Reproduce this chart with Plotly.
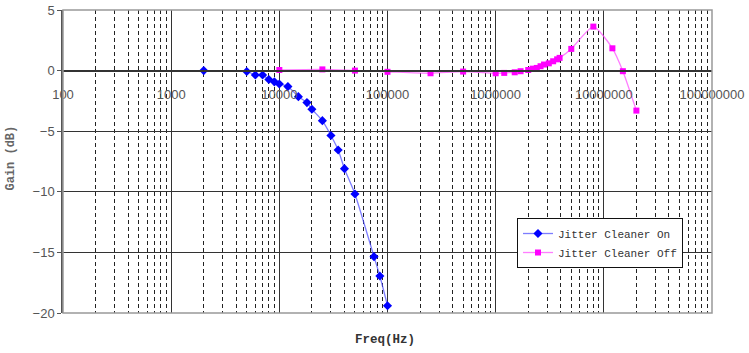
import plotly.graph_objects as go

on_freq = [2000, 5000, 6000, 7000, 8000, 9000, 10000, 12000, 15000, 18000, 20000,
           25000, 30000, 35000, 40000, 50000, 75000, 85000, 100000]
on_gain = [0, -0.08, -0.36, -0.36, -0.74, -0.93, -1.1, -1.32, -2.15, -2.64, -3.19,
           -4.13, -5.36, -6.55, -8.09, -10.18, -15.35, -16.95, -19.4]

off_freq = [10000, 25000, 50000, 100000, 250000, 500000, 1000000, 1200000, 1500000,
            1700000, 2000000, 2200000, 2400000, 2600000, 2800000, 3100000, 3400000,
            3700000, 3900000, 5000000, 8000000, 12000000, 15000000, 20000000]
off_gain = [0.05, 0.1, 0.0, -0.1, -0.22, -0.08, -0.22, -0.19, -0.14, -0.05, 0.05, 0.16,
            0.22, 0.36, 0.5, 0.6, 0.77, 0.93, 1.05, 1.79, 3.63, 1.84, -0.05, -3.3]

x_ticks = [100, 1000, 10000, 100000, 1000000, 10000000, 100000000]
x_ticktext = ["100", "1000", "10000", "100000", "1000000", "10000000", "100000000"]
y_ticks = [5, 0, -5, -10, -15, -20]

minor_vals = [m * d for d in x_ticks[:-1] for m in range(2, 10)]

fig = go.Figure()
fig.add_trace(go.Scatter(
    x=on_freq, y=on_gain, mode="lines+markers", name="Jitter Cleaner On",
    line=dict(color="rgba(70,70,255,0.7)", width=1.3, shape="spline", smoothing=0.6),
    marker=dict(symbol="diamond", size=7, color="#0000ff"),
))
fig.add_trace(go.Scatter(
    x=off_freq, y=off_gain, mode="lines+markers", name="Jitter Cleaner Off",
    line=dict(color="rgba(255,70,255,0.7)", width=1.3, shape="spline", smoothing=0.6),
    marker=dict(symbol="square", size=6, color="#ff00ff"),
))

fig.update_layout(
    width=749, height=353,
    margin=dict(l=63, r=37, t=10, b=40, autoexpand=False),
    paper_bgcolor="white", plot_bgcolor="white",
    showlegend=True,
    legend=dict(
        x=0.6995, y=0.3135, xanchor="left", yanchor="top",
        bgcolor="white", bordercolor="#111", borderwidth=1,
        font=dict(family="Liberation Mono", size=11, color="#333"),
        itemwidth=30, tracegroupgap=2,
    ),
    xaxis=dict(
        type="log", range=[2, 8], automargin=False,
        anchor="free", position=0.8,
        showline=True, linecolor="#333", linewidth=1.5,
        tickvals=x_ticks, ticktext=x_ticktext, ticks="",
        ticklabelstandoff=12,
        tickfont=dict(family="Liberation Sans", size=13, color="#555"),
        showgrid=True, gridcolor="#333", gridwidth=1,
        zeroline=False,
        minor=dict(tickvals=minor_vals, showgrid=True, gridcolor="#222",
                   griddash="4px,3px", gridwidth=1, ticks=""),
    ),
    yaxis=dict(
        range=[-20, 5], tickvals=y_ticks, automargin=False,
        showline=True, linecolor="#555", linewidth=1.5,
        ticks="outside", ticklen=4, tickcolor="#555",
        tickfont=dict(family="Liberation Sans", size=13, color="#555"),
        showgrid=True, gridcolor="#333", gridwidth=1,
        zeroline=False,
    ),
    shapes=[dict(type="rect", xref="paper", yref="paper", x0=0, x1=1, y0=0, y1=1,
                 line=dict(color="#999", width=1.5), layer="above")],
    annotations=[
        dict(text="<b>Gain (dB)</b>", xref="paper", yref="paper", x=-0.08, y=0.51,
             xanchor="center", yanchor="middle", textangle=-90, showarrow=False,
             font=dict(family="Liberation Mono", size=12, color="#666")),
        dict(text="<b>Freq(Hz)</b>", xref="paper", yref="paper", x=0.496, y=-0.09,
             xanchor="center", yanchor="middle", showarrow=False,
             font=dict(family="Liberation Mono", size=12.5, color="#333")),
    ],
)

fig.write_html("out.html")
